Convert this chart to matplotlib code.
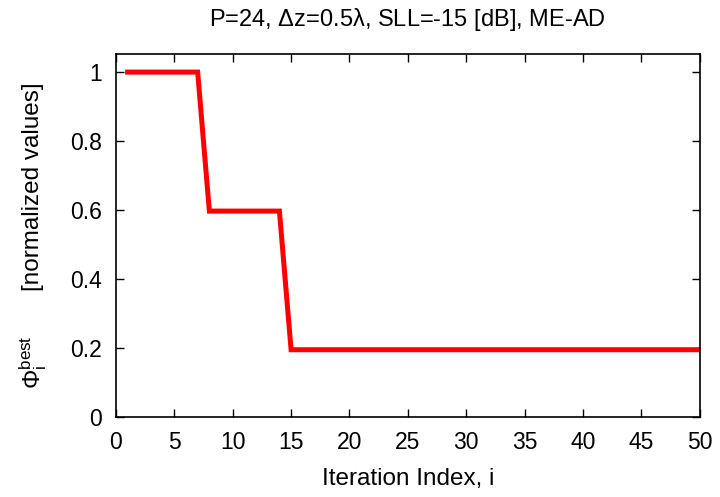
import numpy as np
import matplotlib
matplotlib.use("Agg")
import matplotlib.pyplot as plt

plt.rcParams['font.family'] = ['Liberation Sans', 'DejaVu Sans']
plt.rcParams['mathtext.fontset'] = 'custom'
plt.rcParams['mathtext.rm'] = 'Liberation Sans'
plt.rcParams['mathtext.it'] = 'Liberation Sans'

# best cost per iteration (normalized)
iterations = np.arange(1, 51)
phi_best = np.array([1.0] * 7 + [0.597] * 7 + [0.195] * 36)

xticks = [0, 5, 10, 15, 20, 25, 30, 35, 40, 45, 50]
yticks = [0, 0.2, 0.4, 0.6, 0.8, 1]
yticklabels = ['0', '0.2', '0.4', '0.6', '0.8', '1']

fig = plt.figure(figsize=(7.2, 4.97), dpi=100)
ax = fig.add_axes([0.161, 0.161, 0.811, 0.730])

ax.plot(iterations, phi_best, color='#ff0000', lw=3.6, solid_joinstyle='miter')

ax.set_xlim(0, 50)
ax.set_ylim(0, 1.052)
ax.set_xticks(xticks)
ax.set_yticks(yticks)
ax.set_yticklabels(yticklabels)
ax.tick_params(direction='in', top=True, right=True, length=6, width=1,
               labelsize=16.5, pad=10)
for s in ax.spines.values():
    s.set_linewidth(1.2)

ax.set_title(r'P=24, $\Delta$z=0.5$\lambda$, SLL=-15 [dB], ME-AD', fontsize=17, pad=20)
ax.set_xlabel('Iteration Index, i', fontsize=17.5, labelpad=10)

# y label: symbol and unit text are spaced apart, as in the original
fig.text(33 / 720, 1 - 187 / 497, '[normalized values]', rotation=90,
         fontsize=17.5, ha='center', va='center')
fig.text(33 / 720, 1 - 362 / 497, r'$\Phi_{\mathrm{i}}^{\mathrm{best}}$', rotation=90,
         fontsize=17.5, ha='center', va='center')

fig.savefig('out.png', dpi=100)
